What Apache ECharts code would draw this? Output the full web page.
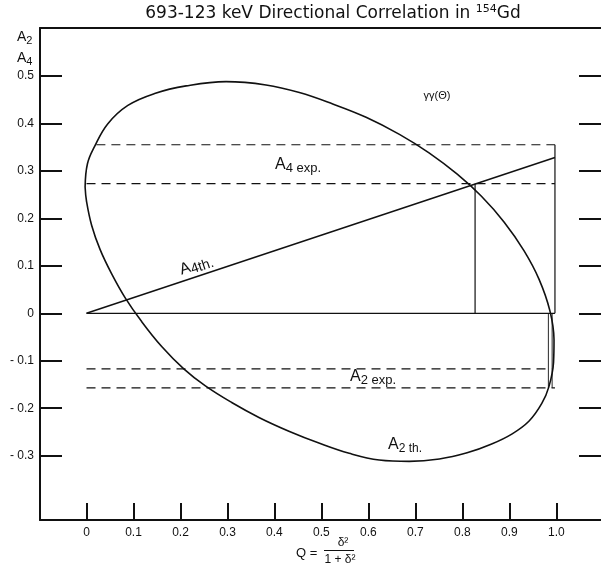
<!DOCTYPE html>
<html>
<head>
<meta charset="utf-8">
<script src="https://cdn.jsdelivr.net/npm/echarts@6/dist/echarts.min.js"></script>
<style>html,body{margin:0;padding:0;background:#fff}#c{width:601px;height:568px}</style>
</head>
<body>
<div id="c"></div>
<script>
// ---- data ----
const qTicks = [0, 0.1, 0.2, 0.3, 0.4, 0.5, 0.6, 0.7, 0.8, 0.9, 1.0];
const aTicks = [0.5, 0.4, 0.3, 0.2, 0.1, 0, -0.1, -0.2, -0.3];

// A2 theoretical curve (closed loop, traced clockwise), Q values and A2 values
const a2thQ = [-0.003, 0.002, 0.017, 0.045, 0.088, 0.145, 0.212, 0.297, 0.382, 0.453, 0.524, 0.595, 0.666, 0.729, 0.789, 0.840, 0.889, 0.931, 0.963, 0.986, 0.995, 0.994, 0.984, 0.969, 0.942, 0.906, 0.861, 0.810, 0.751, 0.687, 0.623, 0.559, 0.496, 0.432, 0.368, 0.309, 0.253, 0.207, 0.160, 0.117, 0.082, 0.053, 0.029, 0.011, 0.000, -0.003];
const a2thA = [0.266, 0.315, 0.351, 0.399, 0.438, 0.463, 0.479, 0.488, 0.481, 0.465, 0.441, 0.413, 0.377, 0.338, 0.293, 0.247, 0.192, 0.132, 0.072, 0.006, -0.056, -0.103, -0.155, -0.190, -0.227, -0.254, -0.276, -0.294, -0.307, -0.312, -0.309, -0.295, -0.274, -0.249, -0.220, -0.188, -0.153, -0.117, -0.070, -0.017, 0.033, 0.084, 0.134, 0.185, 0.236, 0.266];

// A4 theoretical line
const a4thQ = [0, 0.997];
const a4thA = [0, 0.328];

// experimental bands (dashed)
const a4expA = [0.355, 0.273];
const a4expQstart = [0.021, 0.0];
const a2expA = [-0.117, -0.157];
const a2expQstart = [0.0, 0.0];
const dashQend = [0.997, 0.997, 0.990, 0.997];

// solid construction lines
const zeroQ = [0, 0.997];
const vertQ = [0.997, 0.827, 0.983, 0.991];
const vertTop = [0.355, 0.273, -0.157, -0.157];

// ---- build ----
const ink = '#111';
const zip = (xs, ys) => xs.map((x, i) => [x, ys[i]]);
const seg = (data, w, dashed) => ({
  type: 'line', data, symbol: 'none', silent: true, animation: false,
  lineStyle: { color: ink, width: w, type: dashed ? [9, 6] : 'solid' }
});

const series = [];
series.push(Object.assign(seg(zip(a2thQ, a2thA), 1.6), { smooth: 0.4 }));
series.push(seg(zip(a4thQ, a4thA), 1.5));
series.push(seg([[zeroQ[0], 0], [zeroQ[1], 0]], 1.3));
vertQ.forEach((q, i) => series.push(seg([[q, 0], [q, vertTop[i]]], i >= 2 ? 0.9 : 1.2)));
a4expA.forEach((a, i) => series.push(seg([[a4expQstart[i], a], [dashQend[i], a]], 1.2, true)));
a2expA.forEach((a, i) => series.push(seg([[a2expQstart[i], a], [dashQend[i + 2], a]], 1.2, true)));

const qFmt = v => v === 0 ? '0' : v.toFixed(1);
const aFmt = v => v === 0 ? '0' : (v < 0 ? '- ' + (-v).toFixed(1) : v.toFixed(1));
const font = 'Liberation Sans';
const titleFont = 'DejaVu Sans';

const sub = (a, s, fa, fs) => ({
  text: '{a|' + a + '}{s|' + s + '}', fill: ink,
  rich: { a: { fontSize: fa, lineHeight: fa + 2, fontFamily: font, verticalAlign: 'top' },
          s: { fontSize: fs, lineHeight: fs + 1, fontFamily: font, verticalAlign: 'bottom' } }
});

const chart = echarts.init(document.getElementById('c'));
chart.setOption({
  backgroundColor: '#fff',
  animation: false,
  textStyle: { fontFamily: font },
  grid: { left: 40, right: -1, top: 28, bottom: 48 },
  xAxis: [{
    type: 'value', min: -0.099, max: 1.095, position: 'bottom',
    axisLine: { show: true, onZero: false, lineStyle: { color: ink, width: 2 } },
    axisTick: { show: true, inside: true, length: 17, customValues: qTicks, lineStyle: { color: ink, width: 2 } },
    axisLabel: { customValues: qTicks, formatter: qFmt, color: ink, fontSize: 12, margin: 7, fontFamily: font },
    splitLine: { show: false }
  }, {
    type: 'value', min: -0.099, max: 1.095, position: 'top',
    axisLine: { show: true, onZero: false, lineStyle: { color: ink, width: 2 } },
    axisTick: { show: false }, axisLabel: { show: false }, splitLine: { show: false }
  }],
  yAxis: [{
    type: 'value', min: -0.4355, max: 0.601, position: 'left',
    axisLine: { show: true, onZero: false, lineStyle: { color: ink, width: 2 } },
    axisTick: { show: true, inside: true, length: 22, customValues: aTicks, lineStyle: { color: ink, width: 2 } },
    axisLabel: { customValues: aTicks, formatter: aFmt, color: ink, fontSize: 12, margin: 6, fontFamily: font },
    splitLine: { show: false }
  }, {
    type: 'value', min: -0.4355, max: 0.601, position: 'right',
    axisLine: { show: false, onZero: false },
    axisTick: { show: true, inside: true, length: 22, customValues: aTicks, lineStyle: { color: ink, width: 2 } },
    axisLabel: { show: false }, splitLine: { show: false }
  }],
  series,
  graphic: [
    { type: 'text', x: 333, y: 14, style: {
      text: '{a|693-123 keV Directional Correlation in }{s|154}{a|Gd}',
      align: 'center', verticalAlign: 'middle', fill: ink,
      rich: { a: { fontSize: 17, lineHeight: 20, fontFamily: titleFont, verticalAlign: 'middle' },
              s: { fontSize: 11, lineHeight: 14, fontFamily: titleFont, verticalAlign: 'top' } } } },
    { type: 'text', x: 17, y: 30, style: sub('A', '2', 14, 11) },
    { type: 'text', x: 17, y: 51, style: sub('A', '4', 14, 11) },
    { type: 'text', x: 437, y: 96, style: {
      text: 'γγ(Θ)', fill: ink, fontSize: 11, fontFamily: font, align: 'center', verticalAlign: 'middle' } },
    { type: 'text', x: 275, y: 157, style: sub('A', '4 exp.', 16, 13) },
    { type: 'text', x: 350, y: 369, style: sub('A', '2 exp.', 16, 13) },
    { type: 'text', x: 388, y: 437, style: sub('A', '2 th.', 16, 12) },
    { type: 'text', x: 183, y: 262, rotation: 0.321, originX: 0, originY: 17, style: sub('A', '4th.', 16, 14) },
    { type: 'text', x: 296, y: 553, style: {
      text: 'Q =', fill: ink, fontSize: 13, fontFamily: font, verticalAlign: 'middle' } },
    { type: 'text', x: 343, y: 543, style: {
      text: 'δ²', fill: ink, fontSize: 12, fontFamily: font, align: 'center', verticalAlign: 'middle' } },
    { type: 'line', shape: { x1: 324, y1: 550.5, x2: 354, y2: 550.5 }, style: { stroke: ink, lineWidth: 1 } },
    { type: 'text', x: 340, y: 560, style: {
      text: '1 + δ²', fill: ink, fontSize: 12, fontFamily: font, align: 'center', verticalAlign: 'middle' } }
  ]
});
</script>
</body>
</html>
